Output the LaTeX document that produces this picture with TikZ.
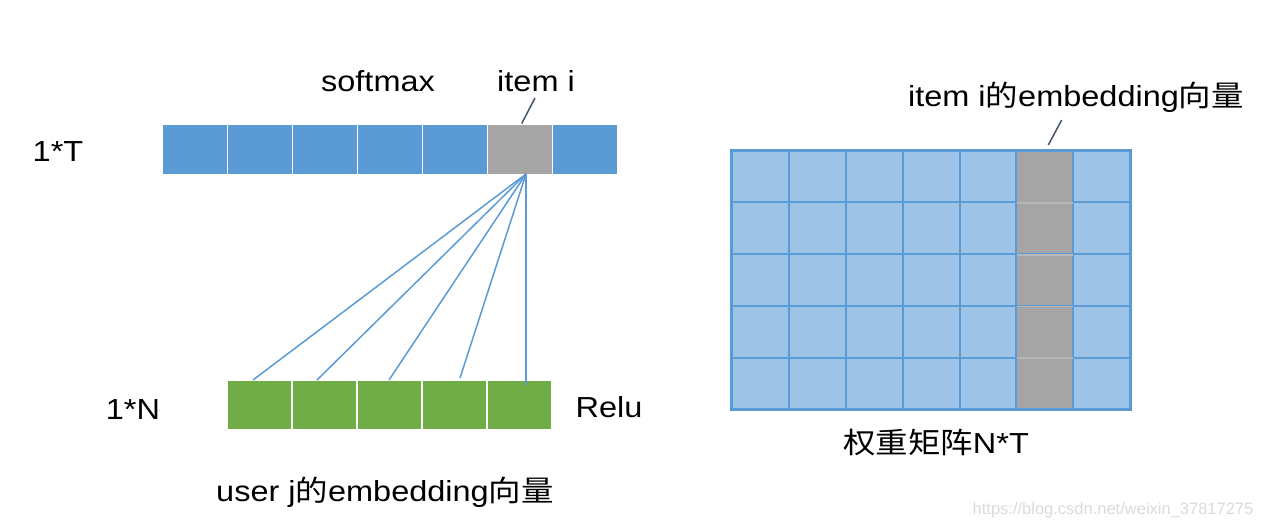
\documentclass[tikz,border=0pt]{standalone}
\usepackage{fontspec}
\setmainfont{Liberation Sans}[FakeStretch=1.12]
\newfontfamily\cjk{Noto Sans CJK SC}[FakeStretch=1.12]
\newfontfamily\wmfont{Liberation Sans}
\definecolor{cblue}{HTML}{5B9BD5}
\definecolor{lblue}{HTML}{9DC3E6}
\definecolor{cgreen}{HTML}{70AD47}
\definecolor{cgray}{HTML}{A5A5A5}
\definecolor{leader}{HTML}{44546A}
\definecolor{wm}{HTML}{DADADA}
\begin{document}
\begin{tikzpicture}[x=1pt,y=-1pt,
  cell/.style={rectangle,inner sep=0pt,minimum width=63.5pt,minimum height=48.5pt,draw=none},
  mcell/.style={rectangle,inner sep=0pt,minimum width=56.9pt,minimum height=51.7pt,draw=cblue,line width=2pt,fill=lblue},
  lbl/.style={inner sep=0pt,font=\fontsize{29}{32}\selectfont},
  fan/.style={draw=cblue,line width=1.5pt},
  lead/.style={draw=leader,line width=1.5pt}]
\useasboundingbox (0,0) rectangle (1262,528);
% top bar
\foreach \k in {0,...,6}{
  \node[cell,fill=cblue] (t\k) at (194.75+65*\k,149.3) {};
}
\node[cell,fill=cgray] (t5) at (519.75,149.3) {};
% green bar
\foreach \k in {0,...,4}{
  \node[cell,fill=cgreen] (g\k) at (259.5+65*\k,405) {};
}
% fan lines
\coordinate (o) at (526,174);
\coordinate (e0) at (253,380);
\coordinate (e1) at (317,380);
\coordinate (e2) at (389,380);
\coordinate (e3) at (460,378);
\coordinate (e4) at (526,385);
\foreach \i in {0,...,4}{ \draw[fan] (o) -- (e\i); }
% labels
\node[lbl] (soft) at (378,81) {softmax};
\node[lbl] (itemi) at (536,81) {item i};
\coordinate (l1a) at (535,98);
\coordinate (l1b) at (521.7,123.5);
\draw[lead] (l1a) -- (l1b);
\node[lbl] (oneT) at (58,152) {1*T};
\node[lbl] (oneN) at (133,410) {1*N};
\node[lbl] (relu) at (609,407) {Relu};
\node[lbl] (userj) at (385,492) {user j{\cjk 的}embedding{\cjk 向量}};
% matrix
\foreach \r in {0,...,4}{
  \foreach \c in {0,...,6}{
    \node[mcell] (m\r\c) at (760.35+56.9*\c,176.55+51.7*\r) {};
  }
}
\foreach \r in {0,...,4}{
  \node[rectangle,inner sep=0pt,minimum width=55pt,minimum height=50pt,fill=cgray,draw=none] (gc\r) at (m\r5) {};
}
\foreach \r in {1,...,4}{
  \draw[draw=cgray!80!white,line width=1.5pt] (gc\r.north west) -- (gc\r.north east);
}
\draw[cblue,line width=2pt] (m00.north west) rectangle (m46.south east);
\node[lbl] (itememb) at (1076,97) {item i{\cjk 的}embedding{\cjk 向量}};
\coordinate (l2a) at (1061.7,120);
\coordinate (l2b) at (1048.3,145);
\draw[lead] (l2a) -- (l2b);
\node[lbl] (wmat) at (936,443) {{\cjk 权重矩阵}N*T};
\node[inner sep=0pt,text=wm,font=\wmfont\fontsize{16.5}{18}\selectfont] (water) at (1113,510) {https://blog.csdn.net/weixin\_37817275};
\end{tikzpicture}
\end{document}
